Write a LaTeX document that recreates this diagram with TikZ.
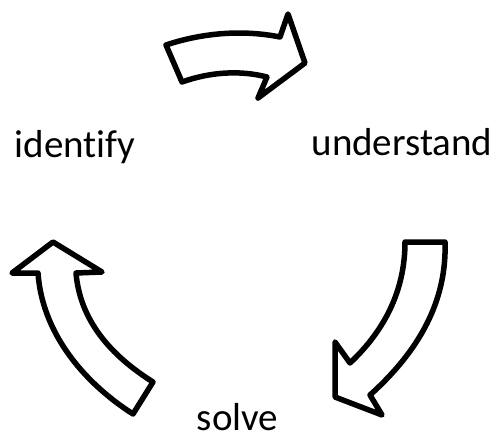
\documentclass[tikz,border=0pt]{standalone}
\usepackage{fontspec}
\setmainfont{Carlito}[Ligatures=NoCommon]
\usepackage{tikz}

\tikzset{
  bigarrow/.style={draw=black,fill=white,line width=5.5pt,line join=round},
  word/.style={anchor=base,inner sep=0pt,font=\fontsize{39}{40}\selectfont}
}

\begin{document}
\begin{tikzpicture}[x=1pt,y=-1pt]
	  \useasboundingbox (0,0) rectangle (496,440);
	  % top arrow
	  \draw[bigarrow] (166,45) .. controls (205,32) and (245,30) .. (280,37)
	        -- (288,14) -- (305,63) -- (258,98) -- (267,77)
	        .. controls (240,70) and (210,72) .. (182,82) -- cycle;
	  % right arrow
	  \draw[bigarrow] (405,242) -- (445,242)
	        .. controls (447,300) and (420,350) .. (370,395)
	        -- (382,415) -- (335,397) -- (335,342) -- (350,363)
	        .. controls (385,330) and (405,290) .. (405,242) -- cycle;
	  % left arrow
	  \draw[bigarrow] (53,242) -- (102,272) -- (76,273)
	        .. controls (80,320) and (110,355) .. (153,382)
	        -- (133,414) .. controls (80,380) and (42,330) .. (38,273)
	        -- (12,273) -- cycle;
	  \node[word] (identify) at (75,157) {identify};
	  \node[word] (understand) at (402,155) {understand};
	  \node[word] (solve) at (237.5,430) {solve};
	\end{tikzpicture}
\end{document}
